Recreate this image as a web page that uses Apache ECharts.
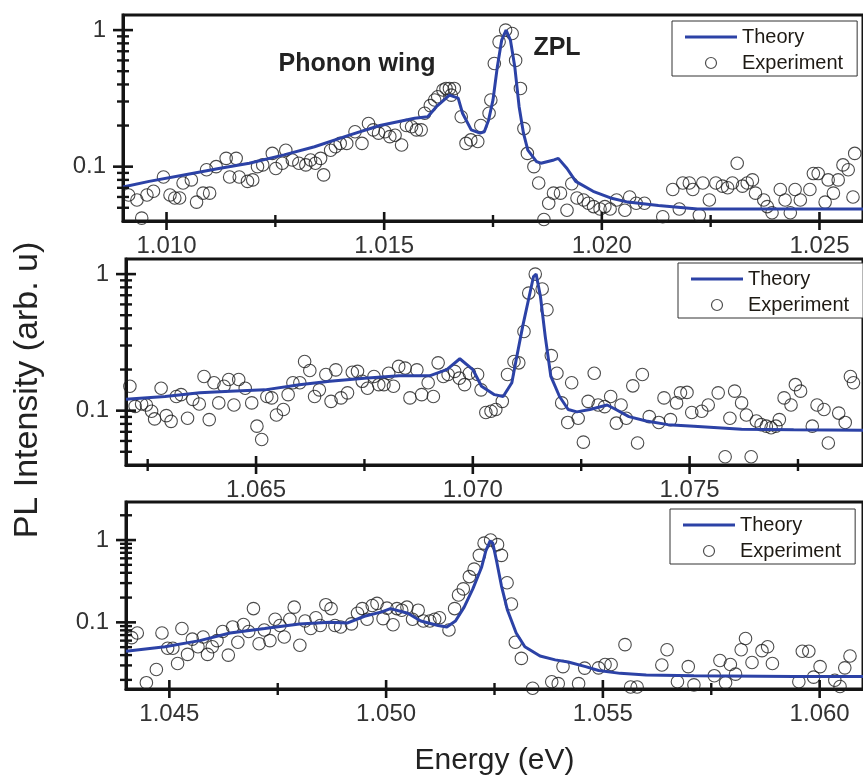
<!DOCTYPE html>
<html>
<head>
<meta charset="utf-8">
<title>PL spectra</title>
<script src="https://cdn.jsdelivr.net/npm/echarts@6/dist/echarts.min.js"></script>
<style>
  html, body { margin: 0; padding: 0; background: #fff; }
  #chart { width: 863px; height: 777px; }
</style>
</head>
<body>
<div id="chart"></div>
<script>
// ---- Panel A (upper) ----
const theoryEnergyA = [1.0090, 1.0096, 1.0104, 1.0112, 1.0119, 1.0127, 1.0134, 1.0142, 1.0149, 1.0157, 1.0160, 1.0162, 1.0165, 1.0167, 1.0168, 1.0170, 1.0172, 1.0173, 1.0174, 1.0175, 1.0176, 1.0177, 1.0178, 1.0179, 1.0180, 1.0181, 1.0182, 1.0183, 1.0185, 1.0186, 1.0189, 1.0190, 1.0192, 1.0194, 1.0198, 1.0202, 1.0206, 1.0213, 1.0222, 1.0235, 1.0260];
const theoryIntensityA = [0.071, 0.078, 0.087, 0.097, 0.106, 0.122, 0.140, 0.170, 0.200, 0.226, 0.232, 0.275, 0.334, 0.318, 0.246, 0.186, 0.176, 0.180, 0.220, 0.308, 0.54, 0.845, 1.0, 0.845, 0.54, 0.275, 0.176, 0.132, 0.109, 0.106, 0.112, 0.115, 0.097, 0.078, 0.066, 0.059, 0.055, 0.052, 0.049, 0.049, 0.049];
const expEnergyA = [1.00913, 1.00932, 1.00943, 1.00955, 1.0097, 1.00993, 1.01008, 1.01019, 1.0103, 1.01038, 1.01057, 1.01069, 1.01084, 1.01092, 1.01099, 1.01114, 1.01137, 1.01145, 1.0116, 1.01167, 1.01186, 1.01198, 1.01209, 1.01221, 1.01243, 1.01251, 1.01266, 1.01274, 1.01289, 1.01304, 1.0132, 1.01331, 1.01342, 1.01354, 1.01361, 1.01377, 1.01388, 1.01399, 1.01414, 1.01433, 1.01449, 1.01464, 1.01475, 1.01487, 1.01502, 1.01513, 1.01525, 1.0154, 1.01551, 1.01563, 1.01574, 1.01585, 1.01593, 1.01606, 1.01616, 1.01623, 1.01635, 1.01642, 1.0165, 1.01654, 1.01661, 1.01677, 1.01688, 1.01699, 1.01715, 1.01722, 1.01741, 1.01745, 1.01753, 1.01764, 1.01779, 1.01794, 1.01802, 1.01813, 1.01821, 1.01829, 1.01844, 1.01855, 1.01867, 1.01878, 1.01889, 1.01905, 1.0192, 1.01931, 1.01943, 1.01958, 1.01969, 1.01981, 1.01996, 1.02007, 1.02019, 1.02034, 1.02053, 1.02064, 1.02079, 1.02098, 1.0214, 1.02163, 1.02178, 1.02186, 1.02201, 1.02209, 1.02224, 1.02232, 1.02247, 1.02262, 1.02277, 1.02289, 1.023, 1.02311, 1.02323, 1.02334, 1.02346, 1.02353, 1.02372, 1.0238, 1.02391, 1.0241, 1.02421, 1.02433, 1.02444, 1.02456, 1.02478, 1.02486, 1.02497, 1.02513, 1.0252, 1.02532, 1.02543, 1.02554, 1.02566, 1.02577, 1.02581];
const expIntensityA = [0.062, 0.057, 0.042, 0.062, 0.066, 0.084, 0.062, 0.059, 0.059, 0.076, 0.080, 0.055, 0.064, 0.095, 0.064, 0.100, 0.115, 0.084, 0.115, 0.084, 0.078, 0.080, 0.100, 0.103, 0.125, 0.097, 0.106, 0.132, 0.112, 0.106, 0.103, 0.112, 0.106, 0.115, 0.087, 0.132, 0.140, 0.148, 0.148, 0.180, 0.148, 0.207, 0.186, 0.176, 0.180, 0.166, 0.170, 0.144, 0.200, 0.196, 0.186, 0.186, 0.246, 0.28, 0.308, 0.325, 0.364, 0.374, 0.374, 0.334, 0.374, 0.232, 0.148, 0.157, 0.153, 0.200, 0.246, 0.308, 0.57, 0.82, 1.0, 0.945, 0.60, 0.374, 0.19, 0.125, 0.100, 0.076, 0.041, 0.054, 0.064, 0.064, 0.048, 0.075, 0.059, 0.057, 0.054, 0.051, 0.049, 0.051, 0.049, 0.057, 0.048, 0.060, 0.054, 0.054, 0.043, 0.068, 0.049, 0.076, 0.076, 0.068, 0.044, 0.076, 0.057, 0.076, 0.072, 0.070, 0.076, 0.106, 0.072, 0.076, 0.080, 0.064, 0.057, 0.051, 0.046, 0.068, 0.057, 0.046, 0.068, 0.057, 0.068, 0.089, 0.089, 0.055, 0.080, 0.064, 0.080, 0.103, 0.095, 0.060, 0.125];

// ---- Panel B (middle) ----
const theoryEnergyB = [1.0620, 1.0629, 1.0637, 1.0644, 1.0652, 1.0660, 1.0667, 1.0675, 1.0683, 1.0690, 1.0694, 1.0697, 1.0700, 1.0702, 1.0705, 1.0707, 1.0709, 1.0710, 1.07115, 1.0713, 1.0714, 1.07146, 1.07156, 1.07167, 1.0718, 1.0720, 1.0722, 1.0724, 1.0727, 1.0731, 1.0733, 1.0736, 1.0740, 1.0745, 1.0751, 1.0762, 1.0774, 1.0790];
const theoryIntensityB = [0.121, 0.127, 0.135, 0.139, 0.142, 0.155, 0.164, 0.173, 0.180, 0.180, 0.200, 0.240, 0.200, 0.151, 0.131, 0.127, 0.160, 0.236, 0.414, 0.686, 0.96, 1.0, 0.686, 0.35, 0.178, 0.127, 0.102, 0.098, 0.102, 0.110, 0.102, 0.0905, 0.084, 0.079, 0.077, 0.073, 0.0725, 0.072];
const expEnergyB = [1.06209, 1.06221, 1.06236, 1.06247, 1.06259, 1.06266, 1.06281, 1.06293, 1.06304, 1.06316, 1.06327, 1.06342, 1.06354, 1.06369, 1.0638, 1.06392, 1.06403, 1.06414, 1.06426, 1.06437, 1.06449, 1.0646, 1.06475, 1.0649, 1.06502, 1.06513, 1.06525, 1.06536, 1.06547, 1.06563, 1.06574, 1.06585, 1.06601, 1.06612, 1.06624, 1.06635, 1.06646, 1.06661, 1.06673, 1.06684, 1.06696, 1.06711, 1.06722, 1.06734, 1.06745, 1.06757, 1.06772, 1.06783, 1.06795, 1.06806, 1.06817, 1.06829, 1.06844, 1.06855, 1.06871, 1.06882, 1.06897, 1.06909, 1.0692, 1.06932, 1.06943, 1.06958, 1.06969, 1.06981, 1.06992, 1.07011, 1.07019, 1.0703, 1.07042, 1.07053, 1.07068, 1.0708, 1.07095, 1.07106, 1.07118, 1.07129, 1.07144, 1.0716, 1.07171, 1.07181, 1.07194, 1.07205, 1.07219, 1.07228, 1.07243, 1.07255, 1.07266, 1.0728, 1.07289, 1.07304, 1.07318, 1.07331, 1.07342, 1.07354, 1.07369, 1.0738, 1.07391, 1.07407, 1.07429, 1.07441, 1.07456, 1.0747, 1.07479, 1.07494, 1.07505, 1.07528, 1.07543, 1.07566, 1.07582, 1.07593, 1.07604, 1.0762, 1.07631, 1.07642, 1.07654, 1.07665, 1.07677, 1.07688, 1.07699, 1.07707, 1.07718, 1.07734, 1.07744, 1.07756, 1.07783, 1.07794, 1.0781, 1.0782, 1.07844, 1.07859, 1.07871, 1.07878];
const expIntensityB = [0.151, 0.1075, 0.112, 0.110, 0.099, 0.087, 0.146, 0.092, 0.0835, 0.127, 0.131, 0.088, 0.121, 0.112, 0.178, 0.086, 0.160, 0.114, 0.151, 0.169, 0.110, 0.169, 0.146, 0.114, 0.077, 0.0615, 0.127, 0.124, 0.093, 0.102, 0.131, 0.160, 0.160, 0.229, 0.197, 0.127, 0.142, 0.184, 0.117, 0.199, 0.124, 0.135, 0.191, 0.194, 0.164, 0.146, 0.178, 0.155, 0.155, 0.188, 0.151, 0.211, 0.205, 0.124, 0.199, 0.131, 0.160, 0.127, 0.224, 0.178, 0.184, 0.194, 0.173, 0.155, 0.188, 0.184, 0.142, 0.097, 0.099, 0.102, 0.117, 0.184, 0.229, 0.224, 0.38, 0.726, 1.0, 0.777, 0.548, 0.253, 0.188, 0.114, 0.082, 0.160, 0.088, 0.0588, 0.117, 0.188, 0.110, 0.107, 0.127, 0.081, 0.110, 0.088, 0.152, 0.058, 0.184, 0.0905, 0.082, 0.124, 0.086, 0.114, 0.135, 0.136, 0.097, 0.099, 0.110, 0.135, 0.046, 0.088, 0.139, 0.114, 0.093, 0.046, 0.084, 0.079, 0.077, 0.075, 0.077, 0.086, 0.124, 0.110, 0.155, 0.139, 0.077, 0.110, 0.102, 0.058, 0.096, 0.082, 0.178, 0.160];

// ---- Panel C (lower) ----
const theoryEnergyC = [1.0440, 1.0449, 1.0457, 1.0464, 1.0472, 1.0480, 1.0487, 1.0491, 1.0495, 1.0499, 1.0501, 1.0505, 1.0508, 1.0512, 1.0514, 1.0516, 1.0518, 1.0520, 1.0522, 1.0523, 1.0524, 1.05246, 1.05255, 1.05266, 1.0528, 1.0530, 1.0532, 1.05355, 1.0539, 1.0542, 1.0546, 1.0549, 1.0554, 1.0560, 1.0571, 1.0594, 1.0610];
const theoryIntensityC = [0.0445, 0.0505, 0.060, 0.0743, 0.0842, 0.0958, 0.100, 0.098, 0.1187, 0.134, 0.147, 0.129, 0.104, 0.0917, 0.088, 0.104, 0.153, 0.255, 0.464, 0.74, 0.98, 0.917, 0.55, 0.278, 0.14, 0.0743, 0.0505, 0.039, 0.035, 0.033, 0.029, 0.026, 0.024, 0.023, 0.0225, 0.022, 0.022];
const expEnergyC = [1.04413, 1.04426, 1.04447, 1.0447, 1.04483, 1.04496, 1.04508, 1.04519, 1.04529, 1.04542, 1.04553, 1.04566, 1.04578, 1.04588, 1.04599, 1.0461, 1.04623, 1.04636, 1.04646, 1.04658, 1.04671, 1.04683, 1.04694, 1.04707, 1.04719, 1.04732, 1.04744, 1.04755, 1.04765, 1.04778, 1.04788, 1.04801, 1.04813, 1.04826, 1.04838, 1.04848, 1.04861, 1.04873, 1.04882, 1.04895, 1.0492, 1.04934, 1.04945, 1.04956, 1.04968, 1.04979, 1.04993, 1.05002, 1.05016, 1.05025, 1.05036, 1.05048, 1.05061, 1.05074, 1.05086, 1.05101, 1.05112, 1.05123, 1.05145, 1.05158, 1.05167, 1.05178, 1.05192, 1.05203, 1.05215, 1.05226, 1.05241, 1.05257, 1.05266, 1.05279, 1.05289, 1.05298, 1.05312, 1.05338, 1.05382, 1.05397, 1.05408, 1.05444, 1.05458, 1.0549, 1.05505, 1.05519, 1.05551, 1.05564, 1.05579, 1.05636, 1.05648, 1.05672, 1.05697, 1.0571, 1.05757, 1.0577, 1.05783, 1.05794, 1.05806, 1.05819, 1.05829, 1.05844, 1.05867, 1.0588, 1.05891, 1.05952, 1.0596, 1.05975, 1.05986, 1.06001, 1.06035, 1.06047, 1.06058, 1.0607];
const expIntensityC = [0.0652, 0.0743, 0.0185, 0.0267, 0.0743, 0.0484, 0.0484, 0.0316, 0.0842, 0.0408, 0.0625, 0.0505, 0.0664, 0.0408, 0.0505, 0.060, 0.0774, 0.040, 0.088, 0.0574, 0.094, 0.0774, 0.147, 0.055, 0.0807, 0.060, 0.109, 0.0917, 0.0664, 0.109, 0.153, 0.0527, 0.104, 0.0842, 0.1137, 0.0917, 0.164, 0.147, 0.0917, 0.088, 0.0958, 0.129, 0.147, 0.109, 0.160, 0.170, 0.111, 0.149, 0.0935, 0.147, 0.1406, 0.153, 0.109, 0.1406, 0.104, 0.104, 0.109, 0.1137, 0.0807, 0.147, 0.215, 0.255, 0.36, 0.444, 0.652, 0.917, 1.0, 0.88, 0.652, 0.303, 0.167, 0.0574, 0.0365, 0.0158, 0.019, 0.018, 0.029, 0.018, 0.0278, 0.028, 0.0308, 0.0308, 0.0536, 0.0164, 0.0164, 0.0303, 0.0464, 0.019, 0.029, 0.0174, 0.0225, 0.0344, 0.0185, 0.0308, 0.0235, 0.0464, 0.0636, 0.0325, 0.0453, 0.0505, 0.0316, 0.019, 0.0445, 0.0445, 0.0216, 0.029, 0.0198, 0.0166, 0.028, 0.039];

// ---- Axis ranges and tick values ----
const energyRanges = [[1.009, 1.026], [1.062, 1.079], [1.044, 1.061]];
const intensityRanges = [[0.04, 1.29], [0.04, 1.29], [0.0155, 2.9]];
const energyLabels = [
  [1.010, 1.015, 1.020, 1.025],
  [1.065, 1.070, 1.075],
  [1.045, 1.050, 1.055, 1.060]
];
const energyMinorTicks = [
  [1.0125, 1.0175, 1.0225],
  [1.0625, 1.0675, 1.0725, 1.0775],
  [1.0475, 1.0525, 1.0575]
];
const intensityDecades = [0.01, 0.1, 1];
const intensityMinorSteps = [2, 3, 4, 5, 6, 7, 8, 9];

// ---- Layout of the three stacked panels ----
const grids = [
  { left: 123, top: 15, width: 745, height: 206 },
  { left: 126, top: 259, width: 745, height: 206 },
  { left: 126, top: 502, width: 746, height: 204 }
];
const legendBoxes = [
  { left: 672, top: 21 },
  { left: 678, top: 263 },
  { left: 670, top: 509 }
];

const FONT = '"Liberation Sans", Arial, Helvetica, sans-serif';
const INK = '#141414';
const LABEL = '#333333';
const BLUE = '#2c42a6';

const zip = (xs, ys) => xs.map((x, i) => [x, ys[i]]);
const theory = [zip(theoryEnergyA, theoryIntensityA), zip(theoryEnergyB, theoryIntensityB), zip(theoryEnergyC, theoryIntensityC)];
const experiment = [zip(expEnergyA, expIntensityA), zip(expEnergyB, expIntensityB), zip(expEnergyC, expIntensityC)];

function isDecade(v) {
  const l = Math.log10(v);
  return Math.abs(l - Math.round(l)) < 1e-6;
}

// Tick marks crossing the axis lines (major long, minor short, log minors at 2..9).
function makeTickRenderer(i) {
  const [xMin] = energyRanges[i];
  const [yMin, yMax] = intensityRanges[i];
  const yMajor = intensityDecades.filter(v => v >= yMin && v <= yMax);
  const yMinor = [];
  intensityDecades.forEach(d => intensityMinorSteps.forEach(m => {
    const v = d * m;
    if (v > yMin && v < yMax) yMinor.push(v);
  }));
  return function (params, api) {
    const cs = params.coordSys;
    const left = cs.x;
    const bottom = cs.y + cs.height;
    const children = [];
    const seg = (x1, y1, x2, y2, w) => children.push({
      type: 'line',
      shape: { x1, y1, x2, y2 },
      style: { stroke: INK, lineWidth: w }
    });
    energyLabels[i].forEach(v => {
      const px = api.coord([v, yMin])[0];
      seg(px, bottom - 9, px, bottom + 9, 2.6);
    });
    energyMinorTicks[i].forEach(v => {
      const px = api.coord([v, yMin])[0];
      seg(px, bottom - 6, px, bottom + 6, 2.4);
    });
    yMajor.forEach(v => {
      const py = api.coord([xMin, v])[1];
      seg(left - 10, py, left + 10, py, 2.6);
    });
    yMinor.forEach(v => {
      const py = api.coord([xMin, v])[1];
      seg(left - 6, py, left + 6, py, 2.4);
    });
    return { type: 'group', children };
  };
}

const option = {
  animation: false,
  backgroundColor: '#ffffff',
  textStyle: { fontFamily: FONT },
  grid: grids.map(g => Object.assign({
    show: true,
    borderColor: INK,
    borderWidth: 3,
    backgroundColor: 'transparent',
    containLabel: false
  }, g)),
  xAxis: energyRanges.map((r, i) => ({
    gridIndex: i,
    type: 'value',
    min: r[0],
    max: r[1],
    name: i === 2 ? 'Energy (eV)' : '',
    nameLocation: 'middle',
    nameGap: 57,
    nameTextStyle: { fontSize: 30, color: '#222', fontFamily: FONT },
    axisLine: { show: true, onZero: false, lineStyle: { color: INK, width: 3 } },
    axisTick: { show: false },
    splitLine: { show: false },
    axisLabel: {
      customValues: energyLabels[i],
      formatter: v => v.toFixed(3),
      fontSize: 24,
      color: LABEL,
      margin: 13,
      fontFamily: FONT
    }
  })),
  yAxis: intensityRanges.map((r, i) => ({
    gridIndex: i,
    type: 'log',
    logBase: 10,
    min: r[0],
    max: r[1],
    axisLine: { show: true, lineStyle: { color: INK, width: 3 } },
    axisTick: { show: false },
    minorTick: { show: false },
    splitLine: { show: false },
    axisLabel: {
      showMinLabel: false,
      showMaxLabel: false,
      formatter: v => (isDecade(v) ? String(Math.round(v * 1000) / 1000) : ''),
      fontSize: 24,
      color: LABEL,
      margin: 17,
      fontFamily: FONT
    }
  })),
  legend: legendBoxes.map(b => ({
    left: b.left,
    top: b.top,
    orient: 'vertical',
    selectedMode: false,
    padding: [6, 14, 3, 13],
    itemGap: 6,
    itemWidth: 52,
    itemHeight: 11,
    borderColor: '#333',
    borderWidth: 1,
    backgroundColor: '#fff',
    textStyle: { fontSize: 20, color: '#1e1a14', fontFamily: FONT, lineHeight: 20 },
    data: [
      { name: 'Theory', icon: 'path://M0,0H52V3H0Z', itemStyle: { color: BLUE, borderWidth: 0 } },
      { name: 'Experiment', icon: 'circle', itemStyle: { color: 'rgba(255,255,255,0)', borderColor: '#222', borderWidth: 1.2 } }
    ]
  })),
  graphic: [
    {
      type: 'text',
      x: 357, y: 64,
      style: { text: 'Phonon wing', font: 'bold 25px ' + FONT, fill: '#222', textAlign: 'center', textVerticalAlign: 'middle' }
    },
    {
      type: 'text',
      x: 557, y: 48,
      style: { text: 'ZPL', font: 'bold 25px ' + FONT, fill: '#222', textAlign: 'center', textVerticalAlign: 'middle' }
    },
    {
      type: 'text',
      x: 28, y: 390,
      rotation: Math.PI / 2,
      style: { text: 'PL Intensity (arb. u)', font: '34px ' + FONT, fill: '#222', textAlign: 'center', textVerticalAlign: 'middle' }
    }
  ],
  series: []
};

for (let i = 0; i < 3; i++) {
  option.series.push({
    name: 'Experiment',
    type: 'scatter',
    xAxisIndex: i,
    yAxisIndex: i,
    data: experiment[i],
    symbol: 'circle',
    symbolSize: 12.5,
    itemStyle: { color: 'rgba(255,255,255,0)', borderColor: '#1e1e1e', borderWidth: 1.1 },
    emphasis: { disabled: true },
    z: 2
  });
  option.series.push({
    name: 'Theory',
    type: 'line',
    xAxisIndex: i,
    yAxisIndex: i,
    data: theory[i],
    showSymbol: false,
    symbol: 'none',
    smooth: false,
    clip: true,
    lineStyle: { color: BLUE, width: 3 },
    itemStyle: { color: BLUE },
    emphasis: { disabled: true },
    z: 3
  });
  option.series.push({
    name: 'ticks' + i,
    type: 'custom',
    xAxisIndex: i,
    yAxisIndex: i,
    silent: true,
    clip: false,
    data: [[energyRanges[i][0], intensityRanges[i][0]]],
    renderItem: makeTickRenderer(i),
    z: 5
  });
}

const chart = echarts.init(document.getElementById('chart'), null, { renderer: 'canvas' });
chart.setOption(option);
</script>
</body>
</html>
